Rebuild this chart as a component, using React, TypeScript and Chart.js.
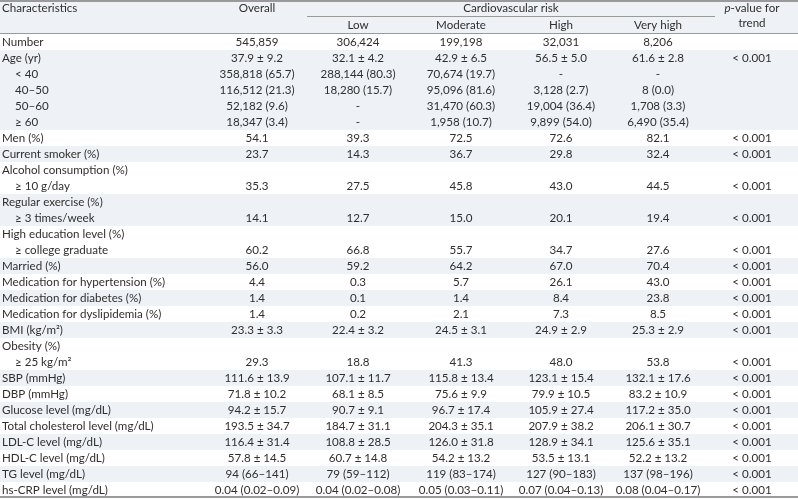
import React, { useEffect, useRef } from "react";
import { Chart, registerables } from "chart.js";

Chart.register(...registerables);

// ---- data ----
const categories = [
  "Number", "Age (yr)", "< 40", "40–50", "50–60", "≥ 60",
  "Men (%)", "Current smoker (%)", "Alcohol consumption (%)", "≥ 10 g/day",
  "Regular exercise (%)", "≥ 3 times/week", "High education level (%)", "≥ college graduate",
  "Married (%)", "Medication for hypertension (%)", "Medication for diabetes (%)",
  "Medication for dyslipidemia (%)", "BMI (kg/m²)", "Obesity (%)", "≥ 25 kg/m²",
  "SBP (mmHg)", "DBP (mmHg)", "Glucose level (mg/dL)", "Total cholesterol level (mg/dL)",
  "LDL-C level (mg/dL)", "HDL-C level (mg/dL)", "TG level (mg/dL)", "hs-CRP level (mg/dL)",
];
const indented = [
  false, false, true, true, true, true,
  false, false, false, true,
  false, true, false, true,
  false, false, false,
  false, false, false, true,
  false, false, false, false,
  false, false, false, false,
];
// group index for alternating shading
const rowGroup = [0, 1, 1, 1, 1, 1, 2, 3, 4, 4, 5, 5, 6, 6, 7, 8, 9, 10, 11, 12, 12, 13, 14, 15, 16, 17, 18, 19, 20];

const overall = [
  "545,859", "37.9 ± 9.2", "358,818 (65.7)", "116,512 (21.3)", "52,182 (9.6)", "18,347 (3.4)",
  "54.1", "23.7", "", "35.3", "", "14.1", "", "60.2",
  "56.0", "4.4", "1.4", "1.4", "23.3 ± 3.3", "", "29.3",
  "111.6 ± 13.9", "71.8 ± 10.2", "94.2 ± 15.7", "193.5 ± 34.7", "116.4 ± 31.4", "57.8 ± 14.5",
  "94 (66–141)", "0.04 (0.02–0.09)",
];
const low = [
  "306,424", "32.1 ± 4.2", "288,144 (80.3)", "18,280 (15.7)", "-", "-",
  "39.3", "14.3", "", "27.5", "", "12.7", "", "66.8",
  "59.2", "0.3", "0.1", "0.2", "22.4 ± 3.2", "", "18.8",
  "107.1 ± 11.7", "68.1 ± 8.5", "90.7 ± 9.1", "184.7 ± 31.1", "108.8 ± 28.5", "60.7 ± 14.8",
  "79 (59–112)", "0.04 (0.02–0.08)",
];
const moderate = [
  "199,198", "42.9 ± 6.5", "70,674 (19.7)", "95,096 (81.6)", "31,470 (60.3)", "1,958 (10.7)",
  "72.5", "36.7", "", "45.8", "", "15.0", "", "55.7",
  "64.2", "5.7", "1.4", "2.1", "24.5 ± 3.1", "", "41.3",
  "115.8 ± 13.4", "75.6 ± 9.9", "96.7 ± 17.4", "204.3 ± 35.1", "126.0 ± 31.8", "54.2 ± 13.2",
  "119 (83–174)", "0.05 (0.03–0.11)",
];
const high = [
  "32,031", "56.5 ± 5.0", "-", "3,128 (2.7)", "19,004 (36.4)", "9,899 (54.0)",
  "72.6", "29.8", "", "43.0", "", "20.1", "", "34.7",
  "67.0", "26.1", "8.4", "7.3", "24.9 ± 2.9", "", "48.0",
  "123.1 ± 15.4", "79.9 ± 10.5", "105.9 ± 27.4", "207.9 ± 38.2", "128.9 ± 34.1", "53.5 ± 13.1",
  "127 (90–183)", "0.07 (0.04–0.13)",
];
const veryHigh = [
  "8,206", "61.6 ± 2.8", "-", "8 (0.0)", "1,708 (3.3)", "6,490 (35.4)",
  "82.1", "32.4", "", "44.5", "", "19.4", "", "27.6",
  "70.4", "43.0", "23.8", "8.5", "25.3 ± 2.9", "", "53.8",
  "132.1 ± 17.6", "83.2 ± 10.9", "117.2 ± 35.0", "206.1 ± 30.7", "125.6 ± 35.1", "52.2 ± 13.2",
  "137 (98–196)", "0.08 (0.04–0.17)",
];
const pValue = [
  "", "< 0.001", "", "", "", "",
  "< 0.001", "< 0.001", "", "< 0.001", "", "< 0.001", "", "< 0.001",
  "< 0.001", "< 0.001", "< 0.001", "< 0.001", "< 0.001", "", "< 0.001",
  "< 0.001", "< 0.001", "< 0.001", "< 0.001", "< 0.001", "< 0.001",
  "< 0.001", "< 0.001",
];
const columnHeaders = ["Overall", "Low", "Moderate", "High", "Very high"];
const columns = [overall, low, moderate, high, veryHigh, pValue];

// ---- layout ----
const W = 798;
const H = 499;
const HEADER_ROWS = 2.125; // header height in row units (34px)
const colX = [257, 358, 461, 561, 658, 752];
const FONT = "Lato";
const FS = 11.6;
const TEXT = "#2f2f2f";
const SHADE = "#eef2f6";
const LINE = "#9a9a9a";

const tablePlugin = {
  id: "tablePlugin",
  beforeDatasetsDraw(chart: any) {
    const { ctx, scales } = chart;
    const xs = scales.x;
    const ys = scales.y;
    const x0 = xs.getPixelForValue(0);
    const x1 = xs.getPixelForValue(W);
    ctx.save();
    // header shading
    ctx.fillStyle = SHADE;
    const hTop = ys.getPixelForValue(-HEADER_ROWS);
    const hBot = ys.getPixelForValue(0);
    ctx.fillRect(x0, hTop, x1 - x0, hBot - hTop);
    // row shading
    categories.forEach((_, i) => {
      if (rowGroup[i] % 2 === 1) {
        const t = ys.getPixelForValue(i);
        const b = ys.getPixelForValue(i + 1);
        ctx.fillRect(x0, t, x1 - x0, b - t);
      }
    });
    // lines
    ctx.strokeStyle = LINE;
    ctx.lineWidth = 2;
    ctx.beginPath();
    ctx.moveTo(x0, hTop + 1);
    ctx.lineTo(x1, hTop + 1);
    ctx.stroke();
    const bottom = ys.getPixelForValue(categories.length);
    ctx.beginPath();
    ctx.moveTo(x0, bottom - 1);
    ctx.lineTo(x1, bottom - 1);
    ctx.stroke();
    ctx.lineWidth = 1;
    ctx.beginPath();
    ctx.moveTo(x0, Math.round(hBot) - 0.5);
    ctx.lineTo(x1, Math.round(hBot) - 0.5);
    ctx.stroke();
    const midY = Math.round(ys.getPixelForValue(-HEADER_ROWS / 2 - 0.06)) + 0.5;
    ctx.beginPath();
    ctx.moveTo(xs.getPixelForValue(307), midY);
    ctx.lineTo(xs.getPixelForValue(715), midY);
    ctx.stroke();

    // header text
    ctx.fillStyle = TEXT;
    ctx.font = `${FS}px ${FONT}`;
    ctx.textBaseline = "middle";
    const yH1 = ys.getPixelForValue(-HEADER_ROWS + 0.5);
    const yH2 = ys.getPixelForValue(-HEADER_ROWS + 1.55);
    ctx.textAlign = "left";
    ctx.fillText("Characteristics", xs.getPixelForValue(2), yH1);
    ctx.textAlign = "center";
    ctx.fillText(columnHeaders[0], xs.getPixelForValue(colX[0]), yH1);
    ctx.fillText("Cardiovascular risk", xs.getPixelForValue(511), yH1);
    for (let c = 1; c < columnHeaders.length; c++) {
      ctx.fillText(columnHeaders[c], xs.getPixelForValue(colX[c]), yH2);
    }
    // p-value header, italic p
    const pRest = "-value for";
    ctx.font = `italic ${FS}px ${FONT}`;
    const wp = ctx.measureText("p").width;
    ctx.font = `${FS}px ${FONT}`;
    const wr = ctx.measureText(pRest).width;
    const px = xs.getPixelForValue(colX[5]);
    const start = px - (wp + wr) / 2;
    ctx.textAlign = "left";
    ctx.font = `italic ${FS}px ${FONT}`;
    ctx.fillText("p", start, yH1);
    ctx.font = `${FS}px ${FONT}`;
    ctx.fillText(pRest, start + wp, yH1);
    ctx.textAlign = "center";
    ctx.fillText("trend", px, ys.getPixelForValue(-HEADER_ROWS + 1.45));
    ctx.restore();
  },
  afterDatasetsDraw(chart: any) {
    const { ctx } = chart;
    ctx.save();
    ctx.fillStyle = TEXT;
    ctx.font = `${FS}px ${FONT}`;
    ctx.textBaseline = "middle";
    // row labels (dataset 0)
    const labelMeta = chart.getDatasetMeta(0);
    ctx.textAlign = "left";
    labelMeta.data.forEach((pt: any, i: number) => {
      ctx.fillText(categories[i], pt.x, pt.y);
    });
    for (let c = 0; c < columns.length; c++) {
      const meta = chart.getDatasetMeta(c + 1);
      ctx.textAlign = "center";
      meta.data.forEach((pt: any, i: number) => {
        const s = columns[c][i];
        if (s) ctx.fillText(s, pt.x, pt.y);
      });
    }
    ctx.restore();
  },
};

export default function App() {
  const ref = useRef<HTMLCanvasElement | null>(null);
  useEffect(() => {
    document.body.style.margin = "0";
    const canvas = ref.current;
    if (!canvas) return;
    const datasets = [
      {
        label: "Characteristics",
        data: categories.map((_, i) => ({ x: indented[i] ? 15 : 2, y: i + 0.5 })),
        pointRadius: 0,
      },
      ...columns.map((col, c) => ({
        label: c < 5 ? columnHeaders[c] : "p-value for trend",
        data: col.map((_, i) => ({ x: colX[c], y: i + 0.5 })),
        pointRadius: 0,
      })),
    ];
    const chart = new Chart(canvas, {
      type: "scatter",
      data: { datasets },
      options: {
        animation: false,
        responsive: false,
        maintainAspectRatio: false,
        layout: { padding: 0 },
        plugins: { legend: { display: false }, tooltip: { enabled: false } },
        events: [],
        scales: {
          x: { type: "linear", min: 0, max: W, display: false },
          y: {
            type: "linear",
            min: -HEADER_ROWS,
            max: -HEADER_ROWS + H / 16,
            reverse: true,
            display: false,
          },
        },
      },
      plugins: [tablePlugin],
    });
    return () => chart.destroy();
  }, []);
  return (
    <div style={{ position: "absolute", left: 0, top: 0, width: W, height: H, background: "#fff" }}>
      <canvas ref={ref} width={W} height={H} style={{ width: W, height: H, display: "block" }} />
    </div>
  );
}
